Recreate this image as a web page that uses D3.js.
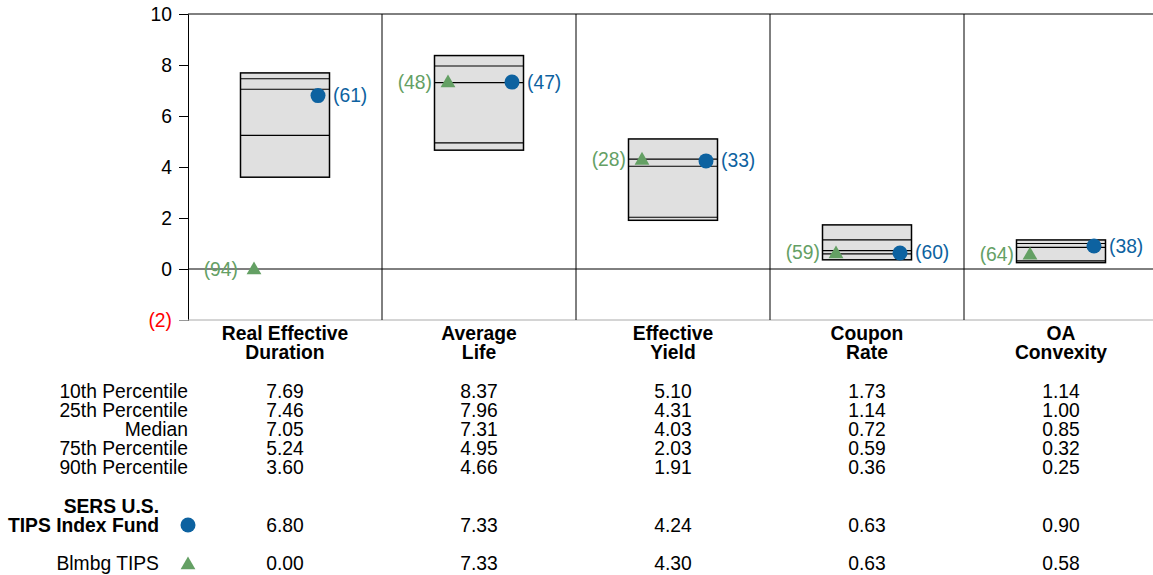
<!DOCTYPE html>
<html>
<head>
<meta charset="utf-8">
<script src="https://cdn.jsdelivr.net/npm/d3@7"></script>
<style>
  body { margin: 0; background: #fff; }
  svg { font-family: "Liberation Sans", Arial, sans-serif; }
</style>
</head>
<body>
<div id="chart"></div>
<script>
var categories = [["Real Effective", "Duration"], ["Average", "Life"], ["Effective", "Yield"], ["Coupon", "Rate"], ["OA", "Convexity"]];
var rowLabels = ["10th Percentile", "25th Percentile", "Median", "75th Percentile", "90th Percentile"];
var p10 = [7.69, 8.37, 5.10, 1.73, 1.14];
var p25 = [7.46, 7.96, 4.31, 1.14, 1.00];
var p50 = [7.05, 7.31, 4.03, 0.72, 0.85];
var p75 = [5.24, 4.95, 2.03, 0.59, 0.32];
var p90 = [3.60, 4.66, 1.91, 0.36, 0.25];
var fundValues = [6.80, 7.33, 4.24, 0.63, 0.90];
var fundRanks = [61, 47, 33, 60, 38];
var indexValues = [0.00, 7.33, 4.30, 0.63, 0.58];
var indexRanks = [94, 48, 28, 59, 64];
var yTicks = [-2, 0, 2, 4, 6, 8, 10];

var width = 1153, height = 575;
var blue = "#0d62a0", green = "#64a064";
var fs = 19.3;

var svg = d3.select("#chart").append("svg")
    .attr("width", width)
    .attr("height", height);

var x = d3.scaleBand()
    .domain(d3.range(categories.length))
    .range([188, 1158])
    .padding(0);

var y = d3.scaleLinear()
    .domain([-2, 10])
    .range([320, 14]);

var cx = function(i) { return x(i) + x.bandwidth() / 2; };

// y axis
var yAxis = svg.append("g")
    .attr("transform", "translate(188,0)")
    .call(d3.axisLeft(y).tickValues(yTicks).tickSize(9).tickPadding(7)
        .tickFormat(function(d) { return d < 0 ? "(" + Math.abs(d) + ")" : d; }));
yAxis.attr("font-size", fs).attr("font-family", null);
yAxis.select(".domain").attr("stroke", "#000");
yAxis.selectAll("text")
    .attr("fill", function(d) { return d < 0 ? "#f00" : "#000"; });
yAxis.selectAll(".tick line").attr("stroke", function(d) { return d < 0 ? "#999" : "#000"; });

// frame lines
svg.append("line").attr("x1", 188).attr("x2", width).attr("y1", y(10)).attr("y2", y(10)).attr("stroke", "#000");
svg.append("line").attr("x1", 188).attr("x2", width).attr("y1", y(-2)).attr("y2", y(-2)).attr("stroke", "#aaa");
svg.append("line").attr("x1", 188).attr("x2", width).attr("y1", y(0)).attr("y2", y(0)).attr("stroke", "#000");

svg.selectAll(".sep")
    .data(d3.range(1, categories.length))
    .enter().append("line")
    .attr("class", "sep")
    .attr("x1", function(i) { return x(i); })
    .attr("x2", function(i) { return x(i); })
    .attr("y1", y(10)).attr("y2", y(-2))
    .attr("stroke", "#000");

// boxes
var boxW = 89;
var box = svg.selectAll(".box")
    .data(d3.range(categories.length))
    .enter().append("g")
    .attr("class", "box");

box.append("rect")
    .attr("x", function(i) { return cx(i) - boxW / 2; })
    .attr("y", function(i) { return y(p10[i]); })
    .attr("width", boxW)
    .attr("height", function(i) { return y(p90[i]) - y(p10[i]); })
    .attr("fill", "#e0e0e0")
    .attr("stroke", "#000")
    .attr("stroke-width", 1.5);

[p25, p50, p75].forEach(function(arr) {
    box.append("line")
        .attr("x1", function(i) { return cx(i) - boxW / 2; })
        .attr("x2", function(i) { return cx(i) + boxW / 2; })
        .attr("y1", function(i) { return y(arr[i]); })
        .attr("y2", function(i) { return y(arr[i]); })
        .attr("stroke", "#000")
        .attr("stroke-width", 1.2);
});

// index triangles
var tri = d3.symbol().type(d3.symbolTriangle).size(95);
box.append("path")
    .attr("d", tri)
    .attr("transform", function(i) { return "translate(" + (cx(i) - 31) + "," + (y(indexValues[i]) + 1) + ")"; })
    .attr("fill", green);
box.append("text")
    .attr("x", function(i) { return cx(i) - 47; })
    .attr("y", function(i) { return y(indexValues[i]) + 6.5; })
    .attr("text-anchor", "end")
    .attr("font-size", fs)
    .attr("fill", green)
    .text(function(i) { return "(" + indexRanks[i] + ")"; });

// fund dots
box.append("circle")
    .attr("cx", function(i) { return cx(i) + 33; })
    .attr("cy", function(i) { return y(fundValues[i]); })
    .attr("r", 7.5)
    .attr("fill", blue);
box.append("text")
    .attr("x", function(i) { return cx(i) + 48; })
    .attr("y", function(i) { return y(fundValues[i]) + 6.5; })
    .attr("font-size", fs)
    .attr("fill", blue)
    .text(function(i) { return "(" + fundRanks[i] + ")"; });

// category labels
var cat = svg.selectAll(".cat")
    .data(categories)
    .enter().append("text")
    .attr("class", "cat")
    .attr("text-anchor", "middle")
    .attr("font-size", fs)
    .attr("font-weight", "bold");
cat.each(function(d, i) {
    d3.select(this).selectAll("tspan")
        .data(d)
        .enter().append("tspan")
        .attr("x", cx(i))
        .attr("y", function(t, j) { return 340 + j * 19; })
        .text(function(t) { return t; });
});

// table
var rows = [p10, p25, p50, p75, p90];
rows.forEach(function(arr, r) {
    var ry = 398 + r * 19;
    svg.append("text")
        .attr("x", 188).attr("y", ry)
        .attr("text-anchor", "end")
        .attr("font-size", fs)
        .text(rowLabels[r]);
    svg.selectAll(".row" + r)
        .data(arr)
        .enter().append("text")
        .attr("x", function(v, i) { return cx(i); })
        .attr("y", ry)
        .attr("text-anchor", "middle")
        .attr("font-size", fs)
        .text(function(v) { return v.toFixed(2); });
});

// fund row
svg.append("text").attr("x", 159).attr("y", 513).attr("text-anchor", "end")
    .attr("font-size", fs).attr("font-weight", "bold").text("SERS U.S.");
svg.append("text").attr("x", 159).attr("y", 532).attr("text-anchor", "end")
    .attr("font-size", fs).attr("font-weight", "bold").text("TIPS Index Fund");
svg.append("circle").attr("cx", 188).attr("cy", 525).attr("r", 7.5).attr("fill", blue);
svg.selectAll(".fundv")
    .data(fundValues)
    .enter().append("text")
    .attr("x", function(v, i) { return cx(i); })
    .attr("y", 532)
    .attr("text-anchor", "middle")
    .attr("font-size", fs)
    .text(function(v) { return v.toFixed(2); });

// index row
svg.append("text").attr("x", 159).attr("y", 570).attr("text-anchor", "end")
    .attr("font-size", fs).text("Blmbg TIPS");
svg.append("path").attr("d", tri).attr("transform", "translate(188,565)").attr("fill", green);
svg.selectAll(".indexv")
    .data(indexValues)
    .enter().append("text")
    .attr("x", function(v, i) { return cx(i); })
    .attr("y", 570)
    .attr("text-anchor", "middle")
    .attr("font-size", fs)
    .text(function(v) { return v.toFixed(2); });
</script>
</body>
</html>
